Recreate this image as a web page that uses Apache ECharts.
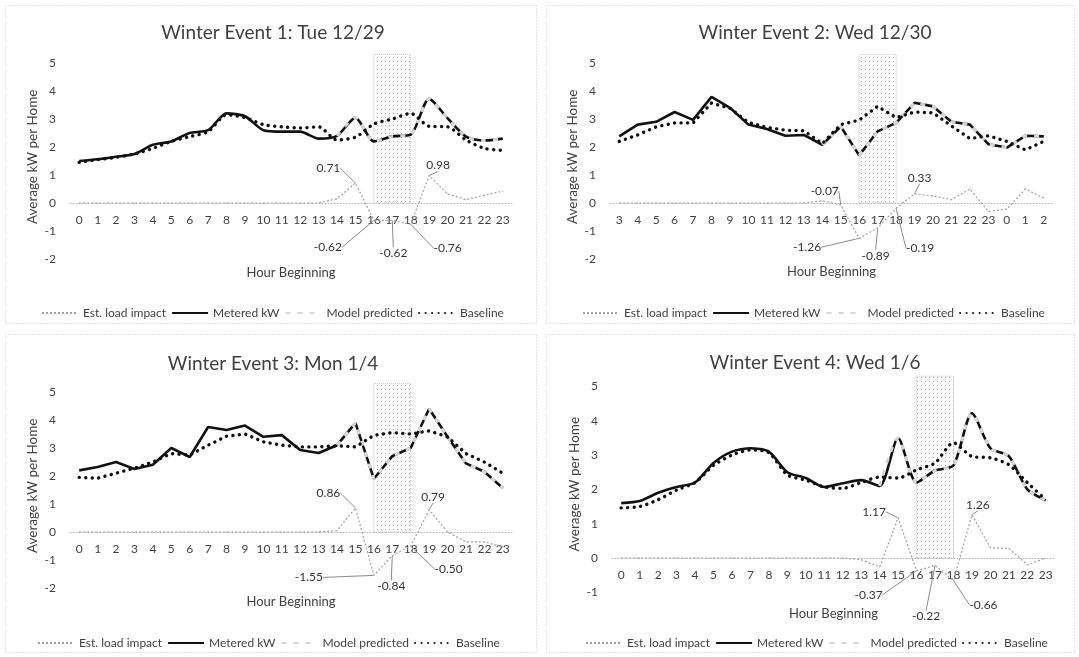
<!DOCTYPE html>
<html><head><meta charset="utf-8">
<script src="https://cdn.jsdelivr.net/npm/echarts@6/dist/echarts.min.js"></script>
<style>html,body{margin:0;padding:0;background:#fff}#c{width:1079px;height:657px}</style>
</head><body><div id="c"></div>
<script>
// ---------- DATA ----------
const hoursDay = ['0','1','2','3','4','5','6','7','8','9','10','11','12','13','14','15','16','17','18','19','20','21','22','23'];
const hoursShift = ['3','4','5','6','7','8','9','10','11','12','13','14','15','16','17','18','19','20','21','22','23','0','1','2'];
const seriesNames = ['Est. load impact','Metered kW','Model predicted','Baseline'];
const titles = ['Winter Event 1: Tue 12/29','Winter Event 2: Wed 12/30','Winter Event 3: Mon 1/4','Winter Event 4: Wed 1/6'];
const labelHours = ['15','16','17','18','19'];
const eventStart = '16', eventEnd = '18', eventTop = 5.3;

const e1Metered  = [1.5,1.56,1.65,1.75,2.08,2.2,2.5,2.6,3.2,3.1,2.6,2.55,2.55,2.3,2.4,3.05,2.2,2.38,2.44,3.72,3.03,2.37,2.23,2.3];
const e1Model    = [null,null,null,null,null,null,null,null,null,null,null,null,null,null,2.4,3.05,2.2,2.38,2.44,3.72,3.03,2.37,2.23,2.3];
const e1Baseline = [1.45,1.55,1.63,1.75,1.95,2.2,2.37,2.55,3.15,3.05,2.8,2.72,2.68,2.72,2.25,2.35,2.82,3.0,3.2,2.74,2.72,2.25,1.95,1.88];
const e1Impact   = [0,0,0,0,0,0,0,0,0,0,0,0,0,0,0.15,0.71,-0.62,-0.62,-0.76,0.98,0.32,0.12,0.28,0.42];

const e2Metered  = [2.38,2.8,2.9,3.25,2.97,3.79,3.4,2.8,2.64,2.4,2.43,2.08,2.73,1.7,2.56,2.86,3.58,3.45,2.9,2.8,2.1,1.98,2.4,2.38];
const e2Model    = [null,null,null,null,null,null,null,null,null,null,null,2.08,2.73,1.7,2.56,2.86,3.58,3.45,2.9,2.8,2.1,1.98,2.4,2.38];
const e2Baseline = [2.2,2.43,2.72,2.86,2.86,3.57,3.38,2.88,2.7,2.6,2.58,2.12,2.8,2.96,3.45,3.05,3.25,3.22,2.75,2.3,2.4,2.2,1.9,2.2];
const e2Impact   = [0,0,0,0,0,0,0,0,0,0,0,0.08,-0.07,-1.26,-0.89,-0.19,0.33,0.25,0.12,0.5,-0.3,-0.22,0.5,0.18];

const e3Metered  = [2.2,2.32,2.5,2.25,2.4,3.0,2.68,3.75,3.64,3.8,3.4,3.46,2.93,2.82,3.1,3.9,1.9,2.71,3.0,4.4,3.4,2.45,2.15,1.57];
const e3Model    = [null,null,null,null,null,null,null,null,null,null,null,null,null,null,3.1,3.9,1.9,2.71,3.0,4.4,3.4,2.45,2.15,1.57];
const e3Baseline = [1.95,1.92,2.1,2.28,2.5,2.8,2.75,3.1,3.42,3.5,3.22,3.1,3.04,3.04,3.08,3.04,3.45,3.55,3.5,3.61,3.4,2.8,2.5,2.1];
const e3Impact   = [0,0,0,0,0,0,0,0,0,0,0,0,0,0,0.05,0.86,-1.55,-0.84,-0.5,0.79,0.0,-0.35,-0.35,-0.53];

const e4Metered  = [1.6,1.66,1.9,2.07,2.2,2.77,3.1,3.2,3.1,2.5,2.33,2.07,2.18,2.27,2.1,3.5,2.2,2.55,2.7,4.22,3.2,2.97,2.0,1.68];
const e4Model    = [null,null,null,null,null,null,null,null,null,null,null,null,null,null,2.1,3.5,2.2,2.55,2.7,4.22,3.2,2.97,2.0,1.68];
const e4Baseline = [1.46,1.5,1.7,1.98,2.2,2.7,3.0,3.15,3.07,2.42,2.27,2.07,2.03,2.2,2.36,2.33,2.57,2.77,3.36,2.96,2.92,2.72,2.2,1.7];
const e4Impact   = [0,0,0,0,0,0,0,0,0,0,0,0,0,-0.05,-0.26,1.17,-0.37,-0.22,-0.66,1.26,0.3,0.28,-0.2,0.0];

const yTicksMin = [-2,-2,-2,-1];

// ---------- LAYOUT / STYLE ----------
const FONT = 'Lato';
const TXT = '#404040';
const LAYOUT = [
  {grid:{left:70, top:54.6, width:442, height:204.4}, unit:28, title:[268,18], legend:[36,302], xNameGap:63, smooth:0.25,
   offs:[[-27,-15],[-46,27],[1,33],[37,24],[9,-10]]},
  {grid:{left:610, top:54.6, width:443, height:204.4}, unit:28, title:[810,18], legend:[577,302], xNameGap:62, smooth:0,
   offs:[[-16,-14],[-52,9],[-2,28],[24,40],[5,-16]]},
  {grid:{left:70, top:383.6, width:442, height:204.4}, unit:28, title:[268,349], legend:[32,632], xNameGap:63, smooth:0,
   offs:[[-27,-15],[-65,2],[-1,31],[38,23],[4,-13]]},
  {grid:{left:612, top:376.2, width:443, height:216.1}, unit:34.3, title:[810,348], legend:[580,632], xNameGap:49, smooth:0.25,
   offs:[[-24,-6],[-48,24],[-9,51],[30,24],[6,-10]]}
];
const BORDERS = [[5.5,5.5,531,318],[546.5,5.5,528,318],[5.5,334.5,531,318],[546.5,334.5,528,318]];

const dotCanvas = document.createElement('canvas');
dotCanvas.width = 4; dotCanvas.height = 4;
const g = dotCanvas.getContext('2d');
g.fillStyle = '#a8a8a8'; g.fillRect(1,1,1,1);

const panels = [
  {cats:hoursDay, m:e1Metered, p:e1Model, b:e1Baseline, i:e1Impact},
  {cats:hoursShift, m:e2Metered, p:e2Model, b:e2Baseline, i:e2Impact},
  {cats:hoursDay, m:e3Metered, p:e3Model, b:e3Baseline, i:e3Impact},
  {cats:hoursDay, m:e4Metered, p:e4Model, b:e4Baseline, i:e4Impact}
];

const option = {
  backgroundColor:'#fff',
  animation:false,
  textStyle:{fontFamily:FONT},
  title:[], grid:[], xAxis:[], yAxis:[], legend:[], series:[],
  graphic: BORDERS.map(r => ({type:'rect', silent:true, shape:{x:r[0],y:r[1],width:r[2],height:r[3]},
    style:{fill:'none', stroke:'#c4c4c4', lineWidth:1, lineDash:[1,2]}}))
};

panels.forEach((P, k) => {
  const L = LAYOUT[k];
  option.title.push({text:titles[k], left:L.title[0], top:L.title[1], textAlign:'center',
    textStyle:{fontFamily:FONT, fontSize:19, fontWeight:'normal', color:TXT}});
  option.grid.push(L.grid);
  // axis sits on the zero line: shift it up from the grid bottom by |min| units
  option.xAxis.push({type:'category', gridIndex:k, data:P.cats, boundaryGap:true, position:'bottom',
    offset: yTicksMin[k] * L.unit,
    axisLine:{onZero:false, lineStyle:{color:'#b4b4b4', width:1, type:[1,2]}},
    axisTick:{show:false},
    axisLabel:{interval:0, fontSize:12, color:TXT, margin:11, fontFamily:FONT},
    name:'Hour Beginning', nameLocation:'middle', nameGap:L.xNameGap,
    nameTextStyle:{fontSize:13, color:TXT, fontFamily:FONT}});
  option.yAxis.push({type:'value', gridIndex:k, min:yTicksMin[k], max:eventTop, interval:1,
    splitLine:{show:false}, axisLine:{show:false}, axisTick:{show:false},
    axisLabel:{fontSize:12, color:TXT, margin:14, fontFamily:FONT,
      formatter: v => Math.abs(v - Math.round(v))<1e-6 ? String(Math.round(v)) : ''},
    name:'Average kW per Home', nameLocation:'middle', nameGap:30,
    nameTextStyle:{fontSize:13.5, color:TXT, fontFamily:FONT}});
  option.legend.push({left:L.legend[0], top:L.legend[1], orient:'horizontal', data:seriesNames,
    itemWidth:36, itemHeight:10, itemGap:5, selectedMode:false,
    itemStyle:{color:'rgba(0,0,0,0)', borderWidth:0},
    textStyle:{fontSize:12, color:TXT, fontFamily:FONT}});

  option.series.push({
    name:seriesNames[0], type:'line', xAxisIndex:k, yAxisIndex:k, z:2,
    data: P.i.map((v, idx) => labelHours.includes(P.cats[idx]) ? {value:v, label:{show:true}} : v),
    symbol:'circle', symbolSize:1, showSymbol:true,
    lineStyle:{color:'#a0a0a0', width:1.2, type:[2,2]}, itemStyle:{color:'#a0a0a0'},
    label:{show:false, position:'inside', fontSize:12, color:'#333', fontFamily:FONT,
      formatter: p => Number(p.value).toFixed(2)},
    labelLine:{show:true, lineStyle:{color:'#8a8a8a', width:1}},
    labelLayout: p => {
      const h = labelHours.indexOf(P.cats[p.dataIndex]);
      const o = L.offs[h];
      return o ? {dx:o[0], dy:o[1]} : {};
    },
    markArea:{silent:true, z:1,
      itemStyle:{color:{image:dotCanvas, repeat:'repeat'}, borderColor:'#c0c0c0', borderWidth:1, borderType:'dotted'},
      data:[[{xAxis:eventStart, yAxis:0},{xAxis:eventEnd, yAxis:eventTop}]]}
  });
  option.series.push({
    name:seriesNames[1], type:'line', xAxisIndex:k, yAxisIndex:k, z:3, data:P.m,
    symbol:'none', smooth:L.smooth, lineStyle:{color:'#111', width:2.6}
  });
  option.series.push({
    name:seriesNames[2], type:'line', xAxisIndex:k, yAxisIndex:k, z:4, data:P.p,
    symbol:'none', smooth:L.smooth, lineStyle:{color:'#d6d6d6', width:3, type:[5,7]}
  });
  option.series.push({
    name:seriesNames[3], type:'line', xAxisIndex:k, yAxisIndex:k, z:5, data:P.b,
    symbol:'none', smooth:L.smooth, lineStyle:{color:'#111', width:3.4, type:[0.1,6.4], cap:'round'}
  });
});

const chart = echarts.init(document.getElementById('c'), null, {renderer:'canvas'});
chart.setOption(option);
</script>
</body></html>
